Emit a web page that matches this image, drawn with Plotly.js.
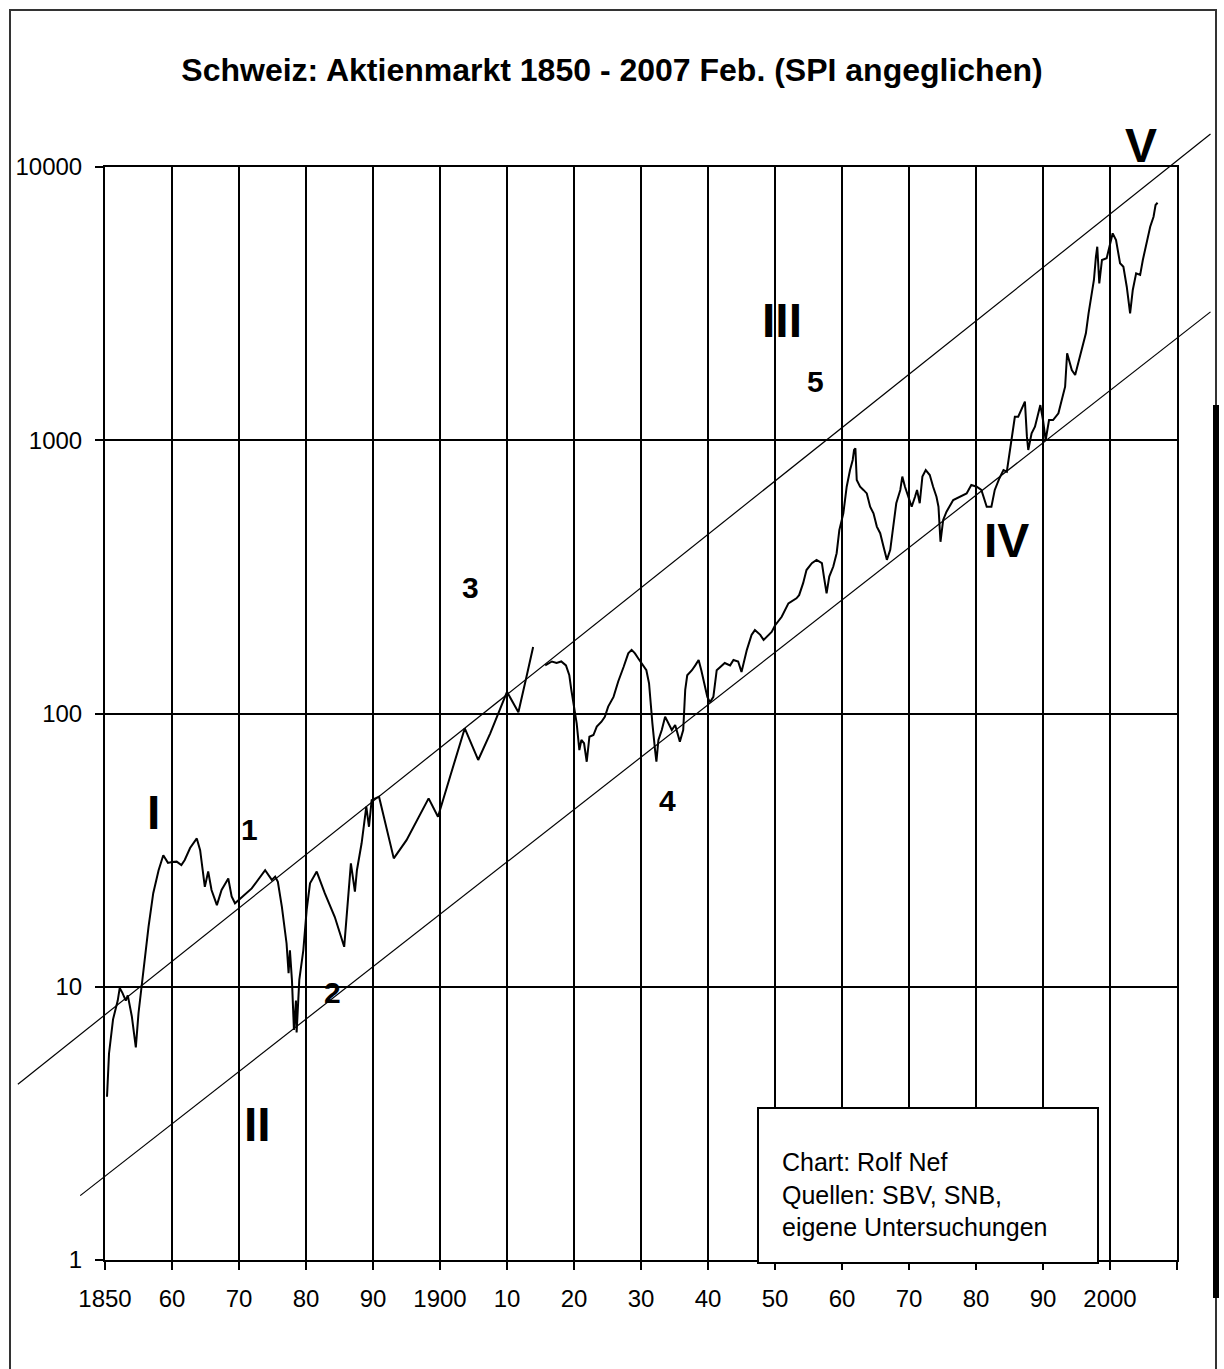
<!DOCTYPE html>
<html>
<head>
<meta charset="utf-8">
<script src="https://cdn.plot.ly/plotly-3.0.1.min.js"></script>
<style>
  html, body { margin: 0; padding: 0; background: #ffffff; }
  #chart { width: 1224px; height: 1369px; }
</style>
</head>
<body>
<div id="chart"></div>
<script>
// ---- Data ----
const years = [
  1850.3, 1850.6, 1851.2, 1851.9, 1852.2, 1852.6, 1853.1, 1853.4, 1854.0, 1854.6,
  1855.0, 1855.5, 1856.0, 1856.5, 1857.2, 1858.0, 1858.7, 1859.4, 1860.0, 1860.7,
  1861.4, 1861.9, 1862.7, 1863.7, 1864.2, 1864.9, 1865.4, 1865.9, 1866.7, 1867.4,
  1868.4, 1868.9, 1869.4, 1870.6, 1871.9, 1873.9, 1874.9, 1875.4, 1875.8, 1876.4,
  1877.1, 1877.4, 1877.6, 1877.9, 1878.2, 1878.5, 1878.6, 1879.0, 1879.6, 1880.1,
  1880.6, 1881.6, 1882.8, 1884.3, 1885.7, 1886.7, 1887.3, 1887.6, 1888.3, 1889.0,
  1889.4, 1889.8, 1890.9, 1893.1, 1895.0, 1898.3, 1899.7, 1901.5, 1903.7, 1905.7,
  1907.5, 1910.0, 1911.7, 1912.9, 1913.9, 1914.8, 1915.7, 1916.7, 1917.4, 1918.1,
  1918.8, 1919.3, 1919.6, 1919.9, 1920.1, 1920.4, 1920.8, 1921.1, 1921.5, 1921.9,
  1922.3, 1922.9, 1923.4, 1924.1, 1924.6, 1925.1, 1925.9, 1926.6, 1927.4, 1928.1,
  1928.6, 1929.1, 1929.6, 1930.3, 1930.8, 1931.2, 1931.4, 1931.7, 1932.1, 1932.3,
  1932.6, 1933.1, 1933.6, 1934.1, 1934.6, 1935.1, 1935.8, 1936.3, 1936.6, 1936.9,
  1937.6, 1938.1, 1938.6, 1939.0, 1939.6, 1939.9, 1940.3, 1940.8, 1941.3, 1941.8,
  1942.5, 1943.3, 1943.8, 1944.5, 1945.0, 1945.8, 1946.5, 1947.0, 1947.8, 1948.3,
  1948.8, 1949.5, 1950.0, 1951.0, 1952.0, 1953.2, 1953.6, 1954.2, 1954.7, 1955.5,
  1956.2, 1957.0, 1957.3, 1957.7, 1958.1, 1958.7, 1959.2, 1959.6, 1960.2, 1960.7,
  1961.2, 1961.6, 1961.8, 1962.0, 1962.2, 1962.7, 1963.2, 1963.7, 1964.2, 1964.7,
  1965.2, 1965.7, 1966.2, 1966.7, 1967.2, 1967.7, 1968.1, 1968.7, 1969.0, 1969.4,
  1969.9, 1970.4, 1970.9, 1971.2, 1971.6, 1972.0, 1972.5, 1973.1, 1973.6, 1974.1,
  1974.4, 1974.6, 1974.7, 1975.1, 1975.6, 1976.6, 1977.6, 1978.6, 1979.3, 1980.1,
  1980.8, 1981.6, 1982.3, 1982.8, 1983.5, 1984.1, 1984.6, 1985.1, 1985.5, 1985.8,
  1986.3, 1986.8, 1987.3, 1987.6, 1987.8, 1988.3, 1988.8, 1989.3, 1989.6, 1990.0,
  1990.4, 1990.9, 1991.5, 1992.3, 1992.8, 1993.3, 1993.6, 1994.3, 1994.8, 1995.3,
  1995.8, 1996.4, 1996.8, 1997.3, 1997.6, 1997.9, 1998.1, 1998.4, 1998.8, 1999.5,
  2000.0, 2000.4, 2000.9, 2001.5, 2002.0, 2002.5, 2003.0, 2003.4, 2003.9, 2004.5,
  2004.9, 2005.5, 2006.0, 2006.5, 2006.8, 2007.1
];
const indexValues = [
  3.96, 5.7, 7.6, 8.9, 9.9, 9.5, 8.9, 9.3, 7.8, 6.0,
  8.0, 10.3, 13.6, 16.6, 22.0, 26.7, 30.3, 28.4, 28.6, 28.7,
  27.9, 29.1, 32.2, 34.9, 31.6, 23.2, 26.4, 22.6, 19.9, 22.6,
  24.9, 21.4, 20.2, 21.4, 22.9, 26.7, 24.6, 25.3, 24.2, 19.6,
  14.4, 11.2, 13.6, 10.6, 6.95, 8.9, 6.8, 10.6, 13.6, 19.1,
  23.9, 26.4, 22.0, 18.0, 14.0, 28.3, 22.3, 26.7, 33.5, 45.6,
  38.5, 48.2, 49.6, 29.5, 34.4, 48.9, 41.9, 58.7, 88.3, 67.6,
  84.6, 120, 101, 136, 175, null, 150, 155, 153, 155,
  150, 138, 122, 109, 100, 92, 73.5, 80, 77.8, 66.6,
  82.2, 83.4, 89.5, 93.3, 97.3, 106, 115, 131, 148, 166,
  171, 166, 159, 150, 144, 129, 109, 92, 73.5, 66.6,
  80, 87, 97.3, 92, 87, 90.8, 78.9, 87, 122, 138,
  144, 150, 157, 144, 125, 115, 110, 115, 144, 148,
  153, 150, 157, 155, 142, 171, 194, 202, 194, 186,
  191, 199, 210, 226, 253, 264, 271, 300, 335, 355,
  365, 355, 317, 275, 317, 345, 386, 469, 540, 676,
  778, 847, 921, 934, 715, 676, 658, 639, 571, 540,
  483, 457, 408, 365, 397, 483, 588, 658, 736, 676,
  621, 571, 621, 658, 588, 736, 778, 746, 676, 621,
  571, 469, 425, 511, 548, 604, 621, 639, 686, 676,
  658, 571, 571, 658, 726, 778, 767, 947, 1121, 1219,
  1219, 1290, 1384, 1031, 921, 1060, 1121, 1255, 1345, 1186,
  1002, 1186, 1186, 1255, 1404, 1570, 2081, 1808, 1733, 1939,
  2199, 2463, 2915, 3451, 3859, 4696, 5109, 3751, 4569, 4634,
  5257, 5717, 5405, 4443, 4316, 3646, 2915, 3548, 4083, 4027,
  4569, 5257, 6047, 6578, 7261, 7400
];

// Trend channel (start / end points)
const upperYears = [1837, 2015];
const upperChannel = [4.4, 13200];
const lowerYears = [1846.3, 2015];
const lowerChannel = [1.72, 2950];

// Axis ticks
const xTickVals = [1850, 1860, 1870, 1880, 1890, 1900, 1910, 1920, 1930, 1940, 1950, 1960, 1970, 1980, 1990, 2000, 2010];
const xTickText = ['1850', '60', '70', '80', '90', '1900', '10', '20', '30', '40', '50', '60', '70', '80', '90', '2000', ''];
const yTickVals = [1, 10, 100, 1000, 10000];
const yTickText = ['1', '10', '100', '1000', '10000'];

// Wave labels
const waveLabels = ['I', '1', '2', 'II', '3', '4', 'III', '5', 'IV', 'V'];
const waveYears  = [1857.2, 1871.6, 1883.9, 1872.8, 1904.6, 1934.0, 1951.0, 1956.1, 1984.5, 2004.6];
const waveValues = [43.6, 37.5, 9.5, 3.12, 290, 48.2, 2754, 1634, 431, 12035];
const waveSizes  = [48, 30, 30, 48, 30, 30, 48, 30, 48, 48];

const titleText = 'Schweiz: Aktienmarkt 1850 - 2007 Feb. (SPI angeglichen)';
const noteText = 'Chart: Rolf Nef<br>Quellen: SBV, SNB,<br>eigene Untersuchungen';

const FONT = 'Liberation Sans, Arial, sans-serif';

// ---- geometry of the figure ----
const W = 1224, H = 1369;
const PL = 105, PR = 1177, PT = 167, PB = 1260;     // plot area in pixels
const X0 = 1850, X1 = 2010, L0 = 0, L1 = 4;         // main axis ranges (log10 for y)
const pxPerYear = (PR - PL) / (X1 - X0);
const pxPerDecade = (PB - PT) / (L1 - L0);
const px = v => v / W;          // paper x from pixel
const py = v => 1 - v / H;      // paper y from pixel

const traces = [
  {
    x: years, y: indexValues, mode: 'lines', type: 'scatter', connectgaps: false,
    xaxis: 'x', yaxis: 'y',
    line: { color: '#000000', width: 2 }
  },
  {
    x: upperYears, y: upperChannel, mode: 'lines', type: 'scatter',
    xaxis: 'x2', yaxis: 'y2',
    line: { color: '#000000', width: 1.2 }, hoverinfo: 'skip'
  },
  {
    x: lowerYears, y: lowerChannel, mode: 'lines', type: 'scatter',
    xaxis: 'x2', yaxis: 'y2',
    line: { color: '#000000', width: 1.2 }, hoverinfo: 'skip'
  }
];

const annotations = waveLabels.map((t, i) => ({
  text: '<b>' + t + '</b>', x: waveYears[i], y: Math.log10(waveValues[i]),
  xref: 'x2', yref: 'y2', showarrow: false,
  font: { family: FONT, size: waveSizes[i], color: '#000000' },
  xanchor: 'center', yanchor: 'middle'
}));

annotations.push({
  text: noteText, xref: 'paper', yref: 'paper',
  x: px(780), y: py(1194),
  xanchor: 'left', yanchor: 'middle', align: 'left', showarrow: false,
  font: { family: FONT, size: 25, color: '#000000' }
});

const shapes = [
  // outer frame
  { type: 'rect', xref: 'paper', yref: 'paper', x0: px(10), x1: px(1216), y0: py(1420), y1: py(10),
    line: { color: '#333333', width: 2 }, fillcolor: 'rgba(0,0,0,0)', layer: 'below' },
  // thick bar at right edge
  { type: 'rect', xref: 'paper', yref: 'paper', x0: px(1213), x1: px(1219), y0: py(1298), y1: py(405),
    line: { width: 0 }, fillcolor: '#000000', layer: 'above' },
  // note box
  { type: 'rect', xref: 'paper', yref: 'paper', x0: px(758), x1: px(1098), y0: py(1263), y1: py(1108),
    line: { color: '#000000', width: 2 }, fillcolor: '#ffffff', layer: 'above' }
];

const axisCommon = {
  showgrid: true, gridcolor: '#000000', gridwidth: 2,
  showline: true, mirror: true, linecolor: '#000000', linewidth: 2,
  ticks: 'outside', ticklen: 8, tickwidth: 2, tickcolor: '#000000',
  tickfont: { family: FONT, size: 24, color: '#000000' },
  zeroline: false, fixedrange: true
};

const layout = {
  width: W, height: H,
  paper_bgcolor: '#ffffff', plot_bgcolor: 'rgba(0,0,0,0)',
  margin: { l: 0, r: 0, t: 0, b: 0, pad: 0 },
  showlegend: false,
  title: {
    text: '<b>' + titleText + '</b>',
    font: { family: FONT, size: 32, color: '#000000' },
    x: 0.5, xanchor: 'center', xref: 'paper', y: 1 - 70 / H, yanchor: 'middle', yref: 'container'
  },
  xaxis: Object.assign({}, axisCommon, {
    domain: [px(PL), px(PR)], anchor: 'y',
    range: [X0, X1], tickvals: xTickVals, ticktext: xTickText,
    ticklabelstandoff: 8
  }),
  yaxis: Object.assign({}, axisCommon, {
    domain: [py(PB), py(PT)], anchor: 'x',
    type: 'log', range: [L0, L1], tickvals: yTickVals, ticktext: yTickText,
    ticklabelstandoff: 8
  }),
  // full-figure helper axes so that channel lines and labels can extend past the plot frame
  xaxis2: {
    domain: [0, 1], anchor: 'y2', visible: false, fixedrange: true,
    range: [X0 - PL / pxPerYear, X1 + (W - PR) / pxPerYear]
  },
  yaxis2: {
    domain: [0, 1], anchor: 'x2', visible: false, fixedrange: true, type: 'log',
    range: [L0 - (H - PB) / pxPerDecade, L1 + PT / pxPerDecade]
  },
  annotations: annotations,
  shapes: shapes
};

Plotly.newPlot('chart', traces, layout, { displayModeBar: false, staticPlot: true });
</script>
</body>
</html>
